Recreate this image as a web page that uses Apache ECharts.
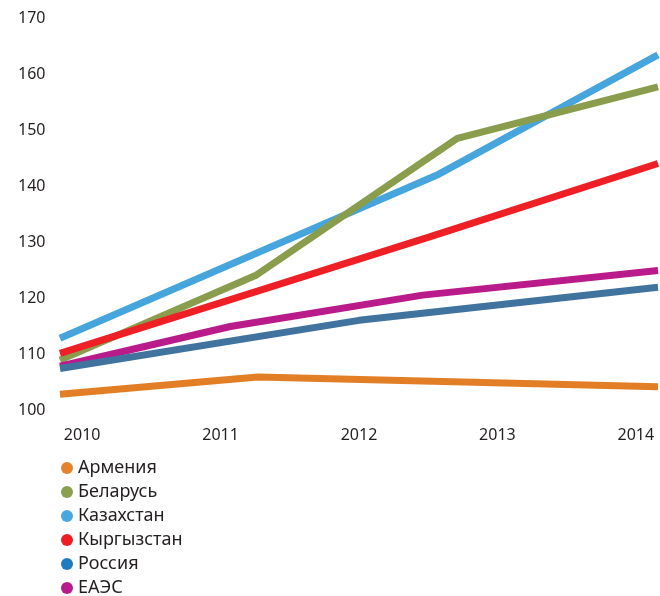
<!DOCTYPE html>
<html>
<head>
<meta charset="utf-8">
<script src="https://cdn.jsdelivr.net/npm/echarts@6/dist/echarts.min.js"></script>
<style>
  html, body { margin: 0; padding: 0; background: #fff; }
  #main { width: 660px; height: 596px; }
</style>
</head>
<body>
<div id="main"></div>
<script>
// годы на оси X
const years = [2010, 2011, 2012, 2013, 2014]
const yTicks = [100, 110, 120, 130, 140, 150, 160, 170]

// точки [год, значение]
const armenia = [[2009.84, 102.9], [2011.27, 106.0], [2014.16, 104.25]]
const belarus = [[2009.84, 109.0], [2011.26, 124.2], [2012.71, 148.6], [2014.16, 157.8]]
const kazakhstan = [[2009.84, 112.9], [2012.56, 142.0], [2014.16, 163.5]]
const kyrgyzstan = [[2009.84, 110.2], [2012.51, 131.0], [2014.16, 144.1]]
const russia = [[2009.84, 107.5], [2012.0, 116.1], [2014.16, 122.0]]
const eaes = [[2009.84, 107.9], [2011.07, 115.0], [2012.46, 120.6], [2014.16, 125.0]]

const names = ['Армения', 'Беларусь', 'Казахстан', 'Кыргызстан', 'Россия', 'ЕАЭС']
const legendColors = ['#e6822c', '#8aa04f', '#4ba8de', '#ee1c25', '#1f7bc0', '#b81c8c']

var myChart = echarts.init(document.getElementById('main'))

const line = (name, data, color) => ({
    name: name,
    type: 'line',
    data: data,
    symbol: 'none',
    silent: true,
    itemStyle: { color: color },
    lineStyle: { color: color, width: 7, join: 'bevel' }
})

myChart.setOption({
    animation: false,
    textStyle: { fontFamily: 'Noto Sans' },
    grid: { left: 60, right: 2, top: 18.5, bottom: 185.5 },
    xAxis: {
        type: 'value',
        min: 2009.84,
        max: 2014.16,
        axisLine: { show: false },
        axisTick: { show: false },
        splitLine: { show: false },
        axisLabel: {
            customValues: years,
            formatter: (v) => String(v),
            margin: 17,
            fontSize: 16,
            color: '#231f20'
        }
    },
    yAxis: {
        type: 'value',
        min: 100,
        max: 170,
        interval: 10,
        axisLine: { show: false },
        axisTick: { show: false },
        splitLine: { show: false },
        axisLabel: {
            customValues: yTicks,
            align: 'left',
            margin: 42,
            fontSize: 16,
            color: '#231f20'
        }
    },
    legend: {
        orient: 'vertical',
        left: 61,
        top: 459,
        height: 160,
        icon: 'circle',
        itemWidth: 12,
        itemHeight: 12,
        itemGap: 6,
        padding: 0,
        selectedMode: false,
        textStyle: { fontSize: 18, lineHeight: 18, color: '#231f20' },
        data: names.map((n, i) => ({ name: n, itemStyle: { color: legendColors[i] } }))
    },
    // порядок отрисовки как на оригинале
    series: [
        line('Казахстан', kazakhstan, '#45a5dc'),
        line('Беларусь', belarus, '#8a9d4c'),
        line('ЕАЭС', eaes, '#b91b8b'),
        line('Россия', russia, '#41739f'),
        line('Кыргызстан', kyrgyzstan, '#ee1f25'),
        line('Армения', armenia, '#e27f26')
    ]
})
</script>
</body>
</html>
